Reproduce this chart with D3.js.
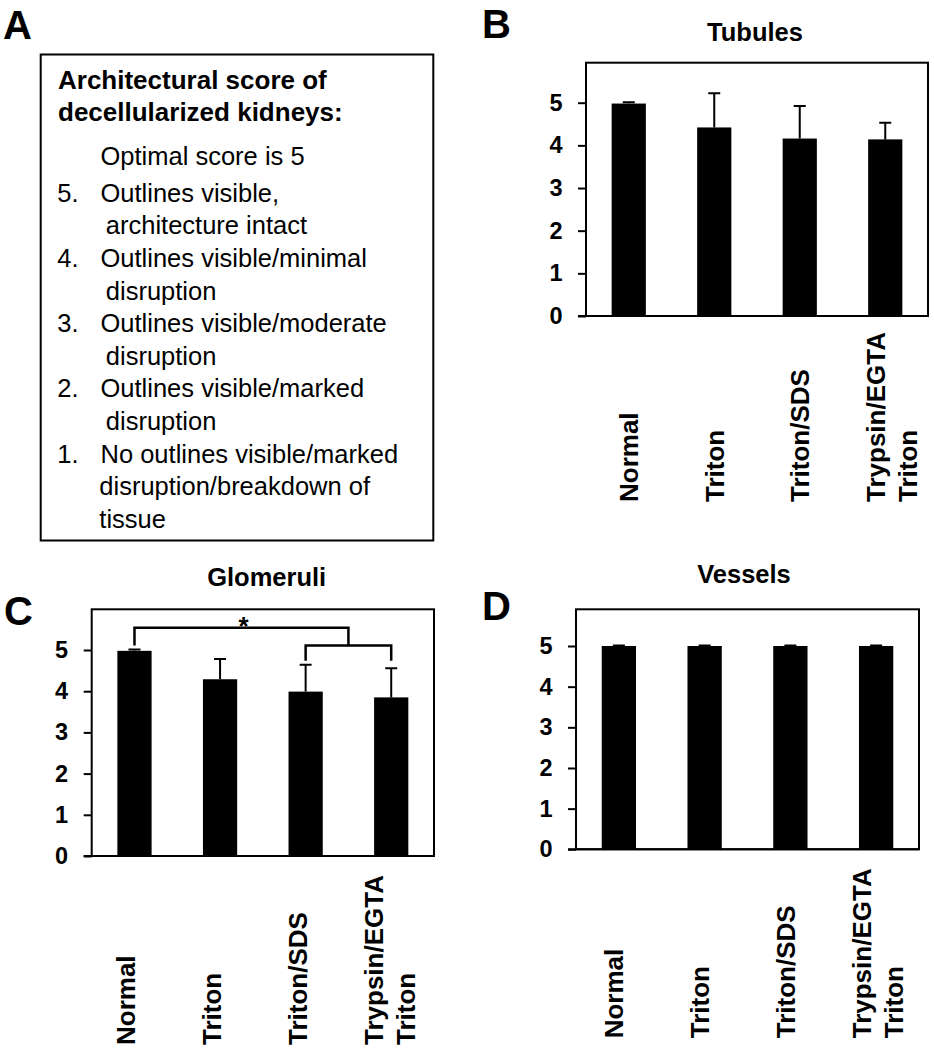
<!DOCTYPE html>
<html><head><meta charset="utf-8">
<script src="https://cdn.jsdelivr.net/npm/d3@7"></script>
<style>
body{margin:0;background:#fff}
svg{display:block}
text{font-family:"Liberation Sans",Arial,Helvetica,sans-serif;fill:#000}
</style>
</head><body>
<svg id="fig" width="934" height="1050"></svg>
<script>
// ---------- data ----------
const categories = ["Normal", "Triton", "Triton/SDS", "Trypsin/EGTA\nTriton"];
const tubulesMean = [4.98, 4.42, 4.16, 4.14];
const tubulesErr = [0.03, 0.80, 0.76, 0.39];
const glomeruliMean = [4.98, 4.29, 3.99, 3.85];
const glomeruliErr = [0.03, 0.49, 0.65, 0.71];
const vesselsMean = [5, 5, 5, 5];
const vesselsErr = [0.01, 0.01, 0.01, 0.01];
const yTicks = [0, 1, 2, 3, 4, 5];
const panelTitles = ["Tubules", "Glomeruli", "Vessels"];
const panelLetters = ["A", "B", "C", "D"];
const scoreTitle = ["Architectural score of", "decellularized kidneys:"];
const scoreNote = "Optimal score is 5";
const scoreNums = ["5.", "4.", "3.", "2.", "1."];
const scoreText = [
  ["Outlines visible,", "architecture intact"],
  ["Outlines visible/minimal", "disruption"],
  ["Outlines visible/moderate", "disruption"],
  ["Outlines visible/marked", "disruption"],
  ["No outlines visible/marked", "disruption/breakdown of", "tissue"]
];
// significance: Normal vs (Triton/SDS, Trypsin/EGTA Triton) in Glomeruli
const sigLabel = "*";

// ---------- drawing ----------
const svg = d3.select("#fig");
svg.append("rect").attr("width", 934).attr("height", 1050).attr("fill", "#fff");

// Panel letters
const letterPos = [[3, 39], [482, 38], [4, 625], [482, 620]];
panelLetters.forEach((L, i) => {
  svg.append("text").attr("x", letterPos[i][0]).attr("y", letterPos[i][1])
    .attr("font-size", 40).attr("font-weight", "bold").text(L);
});

// Panel A : text box
const gA = svg.append("g");
gA.append("rect").attr("x", 40.7).attr("y", 54.5).attr("width", 392.6).attr("height", 486)
  .attr("fill", "none").attr("stroke", "#000").attr("stroke-width", 2);
scoreTitle.forEach((t, i) => {
  gA.append("text").attr("x", 58).attr("y", 89 + i * 31.7)
    .attr("font-size", 26).attr("font-weight", "bold").text(t);
});
gA.append("text").attr("x", 100.5).attr("y", 164.7).attr("font-size", 25.5).text(scoreNote);
let lineIdx = 0;
const lineY = k => 201.8 + k * 32.6;
scoreNums.forEach((n, i) => {
  gA.append("text").attr("x", 57.3).attr("y", lineY(lineIdx)).attr("font-size", 25.5).text(n);
  scoreText[i].forEach((t, j) => {
    const xx = j === 0 ? 100.5 : (i === 4 ? 99.3 : 105.8);
    gA.append("text").attr("x", xx).attr("y", lineY(lineIdx)).attr("font-size", 25.5).text(t);
    lineIdx++;
  });
});

// Bar panels
function barPanel(cfg) {
  const g = svg.append("g");
  const x = d3.scaleBand().domain(categories).range([cfg.x0, cfg.x1])
    .paddingInner(0.6).paddingOuter(0.3);
  const y = d3.scaleLinear().domain([0, 5]).range([cfg.y0, cfg.y5]);
  const cx = c => x(c) + x.bandwidth() / 2;

  // title
  g.append("text").attr("x", cfg.tx).attr("y", cfg.ty).attr("text-anchor", "middle")
    .attr("font-size", 25.5).attr("font-weight", "bold").text(cfg.title);

  // bars
  g.selectAll("rect.bar").data(categories).join("rect").attr("class", "bar")
    .attr("x", c => x(c)).attr("width", x.bandwidth())
    .attr("y", (c, i) => y(cfg.mean[i])).attr("height", (c, i) => y(0) - y(cfg.mean[i]))
    .attr("fill", "#000");

  // error bars (upper only)
  const capW = 6;
  g.selectAll("path.err").data(categories).join("path").attr("class", "err")
    .attr("d", (c, i) => {
      const xm = cx(c), yt = y(cfg.mean[i] + cfg.err[i]), yb = y(cfg.mean[i]);
      return `M${xm},${yb}V${yt}M${xm - capW},${yt}H${xm + capW}`;
    })
    .attr("fill", "none").attr("stroke", "#000").attr("stroke-width", 2);

  // frame
  g.append("rect").attr("x", cfg.x0).attr("y", cfg.top)
    .attr("width", cfg.x1 - cfg.x0).attr("height", cfg.y0 - cfg.top)
    .attr("fill", "none").attr("stroke", "#000").attr("stroke-width", 2);

  // y axis
  const ax = d3.axisLeft(y).tickValues(yTicks).tickSize(8).tickPadding(15.5)
    .tickFormat(d3.format("d"));
  const ga = g.append("g").attr("transform", `translate(${cfg.x0},0)`).call(ax);
  ga.select(".domain").remove();
  ga.selectAll(".tick line").attr("stroke", "#000").attr("stroke-width", 2);
  ga.selectAll(".tick text").attr("font-size", 23.5).attr("font-weight", "bold")
    .attr("font-family", '"Liberation Sans",Arial,sans-serif').attr("fill", "#000");
  // baseline extends to tick length
  g.append("line").attr("x1", cfg.x0 - 8).attr("x2", cfg.x1).attr("y1", y(0)).attr("y2", y(0))
    .attr("stroke", "#000").attr("stroke-width", 2);

  // x labels (rotated)
  categories.forEach(c => {
    const parts = c.split("\n");
    const t = g.append("text")
      .attr("transform", `translate(${cx(c) + cfg.ldx},${y(0) + cfg.loff}) rotate(-90)`)
      .attr("text-anchor", "start").attr("font-size", 26).attr("font-weight", "bold");
    if (parts.length === 1) {
      t.text(parts[0]);
    } else {
      parts.forEach((p, k) => {
        t.append("tspan").attr("x", 0).attr("y", k === 0 ? -9.5 : 22.5).text(p);
      });
    }
  });
  return {x, y, cx, g};
}

barPanel({title: panelTitles[0], mean: tubulesMean, err: tubulesErr,
  x0: 586, x1: 928, top: 62.7, y0: 316, y5: 102.7, tx: 755, ty: 40.7, ldx: 9.4, loff: 186});
const pC = barPanel({title: panelTitles[1], mean: glomeruliMean, err: glomeruliErr,
  x0: 91.7, x1: 434, top: 609.3, y0: 856, y5: 650, tx: 266.7, ty: 586, ldx: 1, loff: 189});
barPanel({title: panelTitles[2], mean: vesselsMean, err: vesselsErr,
  x0: 576, x1: 919, top: 609.3, y0: 849.3, y5: 646, tx: 744, ty: 583.3, ldx: 4.4, loff: 189});

// significance bracket on Glomeruli
(function () {
  const {cx, y, g} = pC;
  const xa = cx(categories[0]), xb = cx(categories[2]), xc = cx(categories[3]);
  const xm = (xb + xc) / 2;
  const yTop = y(5.54), yInner = y(5.11), yLegA = y(5.11), yLegIn = y(4.74);
  g.append("path")
    .attr("d", `M${xa},${yLegA}V${yTop}H${xm}V${yInner}`)
    .attr("fill", "none").attr("stroke", "#000").attr("stroke-width", 2.5);
  g.append("path")
    .attr("d", `M${xb},${yLegIn}V${yInner}H${xc}V${yLegIn}`)
    .attr("fill", "none").attr("stroke", "#000").attr("stroke-width", 2.5);
  g.append("text").attr("x", (xa + xm) / 2 + 2).attr("y", y(5.54) + 7)
    .attr("text-anchor", "middle").attr("font-size", 26).attr("font-weight", "bold").text(sigLabel);
})();
</script>
</body></html>
